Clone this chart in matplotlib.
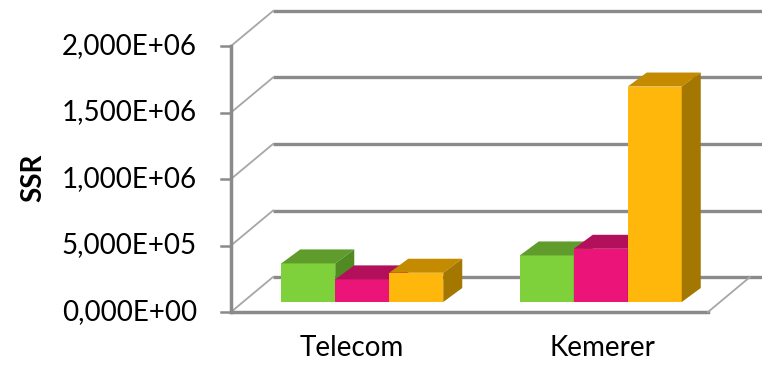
import numpy as np
import matplotlib.pyplot as plt
from matplotlib.patches import Polygon

# data
categories = ["Telecom", "Kemerer"]
ssr_green = [2.9e5, 3.5e5]
ssr_pink = [1.7e5, 4.0e5]
ssr_orange = [2.2e5, 1.62e6]
yticks = [0, 5e5, 1e6, 1.5e6, 2e6]
ytick_labels = ["0,000E+00", "5,000E+05", "1,000E+06", "1,500E+06", "2,000E+06"]

series = [ssr_green, ssr_pink, ssr_orange]
# front, top, side shades
colors = [("#7ed13b", "#5f9c2c", "#4f8a22"),
          ("#eb1579", "#b3105c", "#990d4e"),
          ("#feb70a", "#c48a00", "#a37700")]

plt.rcParams['font.family'] = ['Lato', 'DejaVu Sans']

W, H = 762, 370
fig = plt.figure(figsize=(W / 100, H / 100), dpi=100)
x0px, x1px, y0px, ytpx = 231, 708, 312, 46
ax = fig.add_axes([x0px / W, (H - y0px) / H, (x1px - x0px) / W, (y0px - ytpx) / H])
ax.set_xlim(-0.5, 1.5)
ax.set_ylim(0, 2e6)
ax.axis('off')

sx = 2.0 / (x1px - x0px)      # data units per pixel
sy = 2e6 / (y0px - ytpx)

grid_c = "#8a8a8a"
wall_dx, wall_dy = 42 * sx, 35 * sy

# back wall gridlines + left wall diagonals + ticks
for v, lab in zip(yticks, ytick_labels):
    ax.plot([-0.5 + wall_dx, 2.5], [v + wall_dy, v + wall_dy], color=grid_c, lw=2.4,
            clip_on=False, solid_capstyle='butt')
    ax.plot([-0.5, -0.5 + wall_dx], [v, v + wall_dy], color="#a6a6a6", lw=1.3, clip_on=False)
    ax.plot([-0.5 - 10 * sx, -0.5], [v, v], color=grid_c, lw=1.8, clip_on=False)
    ax.text(-0.5 - 34 * sx, v, lab, ha='right', va='center', fontsize=20, clip_on=False)

# left axis and floor
ax.plot([-0.5, -0.5], [0, 2e6], color=grid_c, lw=2.5, clip_on=False)
ax.plot([-0.5, 1.5], [0, 0], color=grid_c, lw=2.5, clip_on=False)
ax.plot([1.5, 1.5 + wall_dx], [0, wall_dy], color="#a6a6a6", lw=1.3, clip_on=False)

# bars
bw = 54 * sx
off_x, off_y = 12 * sx, 10 * sy
dep_x, dep_y = 19 * sx, 14 * sy
x = np.arange(len(categories))
for ci in range(len(categories)):
    for si, vals in enumerate(series):
        front, top, side = colors[si]
        xl = x[ci] + off_x + (si - 1.5) * bw
        xr = xl + bw
        b = off_y
        t = off_y + vals[ci]
        ax.bar(xl, vals[ci], width=bw, bottom=b, align='edge', color=front,
               linewidth=0, zorder=3)
        ax.add_patch(Polygon([(xl, t), (xr, t), (xr + dep_x, t + dep_y), (xl + dep_x, t + dep_y)],
                             closed=True, facecolor=top, edgecolor='none', zorder=3))
        ax.add_patch(Polygon([(xr, b), (xr, t), (xr + dep_x, t + dep_y), (xr + dep_x, b + dep_y)],
                             closed=True, facecolor=side, edgecolor='none', zorder=3))

label_dx = [2, 14]   # px nudges of the category labels
for i, name in enumerate(categories):
    ax.text(x[i] + label_dx[i] * sx, -36 * sy, name, ha='center', va='center',
            fontsize=20, clip_on=False)

fig.text(33 / W, 1 - 178 / H, "SSR", rotation=90, ha='center', va='center',
         fontsize=20, fontweight='bold')

fig.savefig("out.png", dpi=100)
